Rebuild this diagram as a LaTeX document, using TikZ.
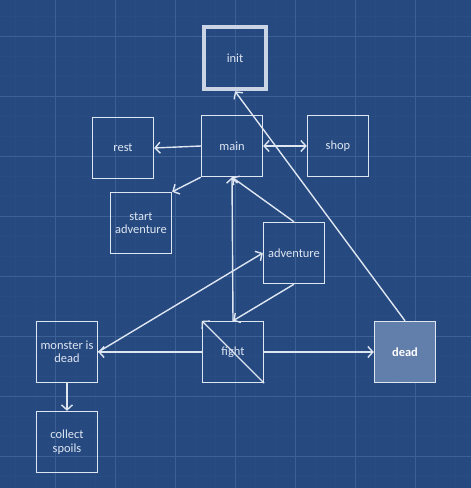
\documentclass[tikz,border=0pt]{standalone}
\usepackage{fontspec}
\setmainfont{Carlito}
\usetikzlibrary{arrows.meta}
\definecolor{blueprint}{RGB}{38,73,128}
\definecolor{gitter}{RGB}{60,95,148}
\definecolor{gitterfein}{RGB}{41,76,131}
\definecolor{kante}{RGB}{222,230,242}
\definecolor{tot}{RGB}{98,126,170}
\definecolor{startrand}{RGB}{202,212,228}

\tikzset{
  zustand/.style={draw=kante, line width=1.4bp, minimum size=61bp, inner sep=0pt,
    align=center, text=kante, font=\fontsize{12.5}{13.5}\selectfont},
  uebergang/.style={kante, line width=1.4bp, -{Straight Barb[length=5bp,width=11bp]}},
}

\begin{document}
\begin{tikzpicture}[x=1bp, y=-1bp]

    \fill[blueprint] (0,0) rectangle (471,488);
    \useasboundingbox (0,0) rectangle (471,488);

    % gitter
    \foreach \gx in {15,35,...,471} \draw[gitterfein, line width=0.5bp] (\gx,0) -- (\gx,488);
    \foreach \gy in {16,36,...,488} \draw[gitterfein, line width=0.5bp] (0,\gy) -- (471,\gy);
    \foreach \gx in {55,115,...,471} \draw[gitter, line width=0.8bp] (\gx,0) -- (\gx,488);
    \foreach \gy in {36,96,...,488} \draw[gitter, line width=0.8bp] (0,\gy) -- (471,\gy);

    \node[zustand, draw=startrand, line width=4.5bp, minimum size=62bp] (init) at (235,58) {init};
    \node[zustand] (main) at (232,146) {main};
    \node[zustand] (rest) at (123,148) {rest};
    \node[zustand] (shop) at (338,146) {shop};
    \node[zustand] (startadv) at (141,223) {start\\adventure};
    \node[zustand] (adventure) at (294,253) {adventure};
    \node[zustand] (monster) at (67,352) {monster is\\dead};
    \node[zustand] (fight) at (233,352) {fight};
    \node[zustand, fill=tot, text=white, font=\fontsize{12.5}{13.5}\selectfont\bfseries] (dead) at (405,352) {dead};
    \node[zustand] (spoils) at (67,442) {collect\\spoils};

    \draw[uebergang] (main.west) -- (rest.east);
    \draw[uebergang, {Straight Barb[length=5bp,width=11bp]}-{Straight Barb[length=5bp,width=11bp]}] (main.east) -- (shop.west);
    \draw[uebergang] (main.south west) -- (startadv.north east);
    \draw[uebergang] (adventure.north) -- (main.south);
    \draw[uebergang] (fight.north) -- (main.south);
    \draw[uebergang] (adventure.south) -- (fight.north);
    \draw[uebergang] (fight.west) -- (monster.east);
    \draw[uebergang] (monster.east) -- (adventure.west);
    \draw[uebergang] (fight.east) -- (dead.west);
    \draw[uebergang] (fight.south east) -- (fight.north west);
    \draw[uebergang] (dead.north) -- (init.south);
    \draw[uebergang] (monster.south) -- (spoils.north);

\end{tikzpicture}
\end{document}
